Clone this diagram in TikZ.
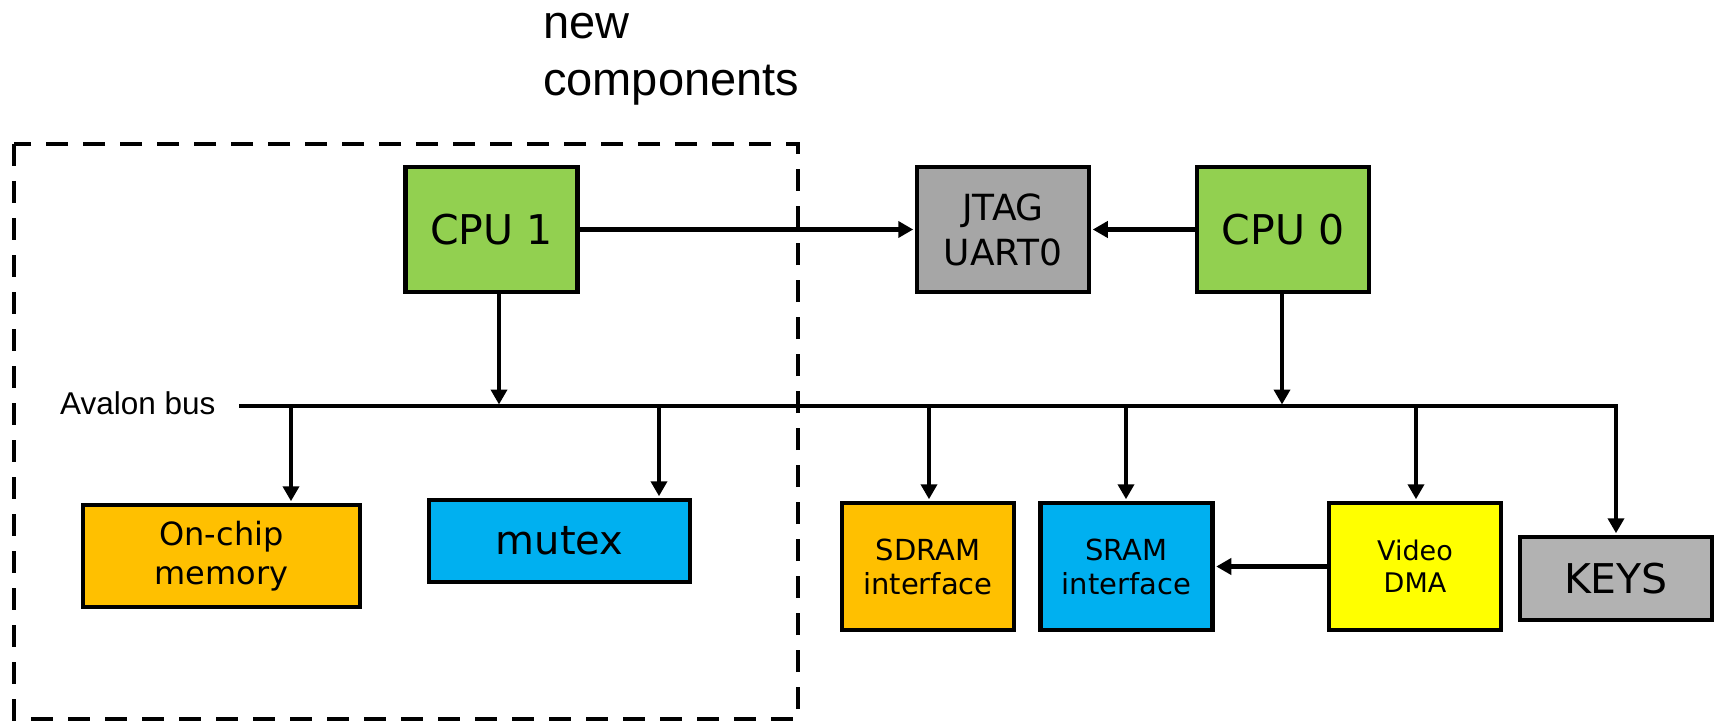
\documentclass[tikz,border=0pt]{standalone}
\usepackage{fontspec}
\setmainfont{DejaVu Sans}
\newfontfamily\arialf{Liberation Sans}
\usetikzlibrary{arrows.meta}
\definecolor{cpugreen}{HTML}{92D050}
\definecolor{jtaggray}{HTML}{A6A6A6}
\definecolor{keysgray}{HTML}{B2B2B2}
\definecolor{memorange}{HTML}{FFC000}
\definecolor{memblue}{HTML}{00B0F0}
\definecolor{dmayellow}{HTML}{FFFF00}
\tikzset{
  blk/.style={draw=black, line width=4.5pt, inner sep=0pt, align=center},
  cpubox/.style={blk, fill=cpugreen, minimum width=172pt, minimum height=125pt, font=\fontsize{41}{49}\selectfont},
  tallbox/.style={blk, minimum width=172pt, minimum height=127pt},
  conn/.style={line width=4.5pt},
  arr/.style={conn, -{Triangle[length=15pt,width=16pt]}, shorten >=1.5pt},
  groupbox/.style={line width=4.5pt, dash pattern=on 22pt off 15pt},
}
\begin{document}
\begin{tikzpicture}[x=1pt,y=-1pt]
\useasboundingbox (0,0) rectangle (1721,722);
\fill[white] (0,0) rectangle (1721,722);

% group of new components
\draw[groupbox] (14,144) rectangle (798,719);
\node[anchor=base west, align=left, inner sep=0pt, font=\arialf\fontsize{47}{57}\selectfont] (newc) at (543,96) {new\\components};

% top row
\node[cpubox] (cpu1) at (491.5,229.5) {CPU 1};
\node[blk, fill=jtaggray, minimum width=172pt, minimum height=125pt, font=\fontsize{36}{45}\selectfont] (jtag) at (1003,229.5) {JTAG\\UART0};
\node[cpubox] (cpu0) at (1283,229.5) {CPU 0};

% bottom row
\node[blk, fill=memorange, minimum width=277pt, minimum height=102pt, font=\fontsize{32}{39}\selectfont] (onchip) at (221.5,556) {On-chip\\memory};
\node[blk, fill=memblue, minimum width=261pt, minimum height=82pt, font=\fontsize{40}{48}\selectfont] (mutex) at (559.5,541) {mutex};
\node[tallbox, fill=memorange, font=\fontsize{29}{34}\selectfont] (sdram) at (928,566.5) {SDRAM\\interface};
\node[tallbox, fill=memblue, font=\fontsize{29}{34}\selectfont] (sram) at (1126.5,566.5) {SRAM\\interface};
\node[tallbox, fill=dmayellow, font=\fontsize{27}{32}\selectfont] (video) at (1415,566.5) {Video\\DMA};
\node[blk, fill=keysgray, minimum width=192pt, minimum height=83pt, font=\fontsize{41}{49}\selectfont] (keys) at (1616,578.5) {KEYS};

% bus
\node[anchor=base west, inner sep=0pt, font=\arialf\fontsize{31.5}{38}\selectfont] (buslabel) at (60,414) {Avalon bus};
\coordinate (bL) at (239,406);
\coordinate (bR) at (1616,406);
\draw[arr, line join=miter] (bL) -- (bR) -- (keys.north);

% CPU connections
\draw[arr] (cpu1.east) -- (jtag.west);
\draw[arr] (cpu0.west) -- (jtag.east);
\coordinate (j1) at (499,406);
\coordinate (j0) at (1282,406);
\draw[arr] (cpu1.south -| j1) -- (j1);
\draw[arr] (cpu0.south -| j0) -- (j0);

% drops to slaves
\coordinate (d1) at (291,406);
\coordinate (d2) at (659,406);
\coordinate (d3) at (929,406);
\coordinate (d4) at (1126,406);
\coordinate (d5) at (1416,406);
\draw[arr] (d1) -- (d1 |- onchip.north);
\draw[arr] (d2) -- (d2 |- mutex.north);
\draw[arr] (d3) -- (d3 |- sdram.north);
\draw[arr] (d4) -- (d4 |- sram.north);
\draw[arr] (d5) -- (d5 |- video.north);

% DMA to SRAM
\draw[arr] (video.west) -- (sram.east);
\end{tikzpicture}
\end{document}
